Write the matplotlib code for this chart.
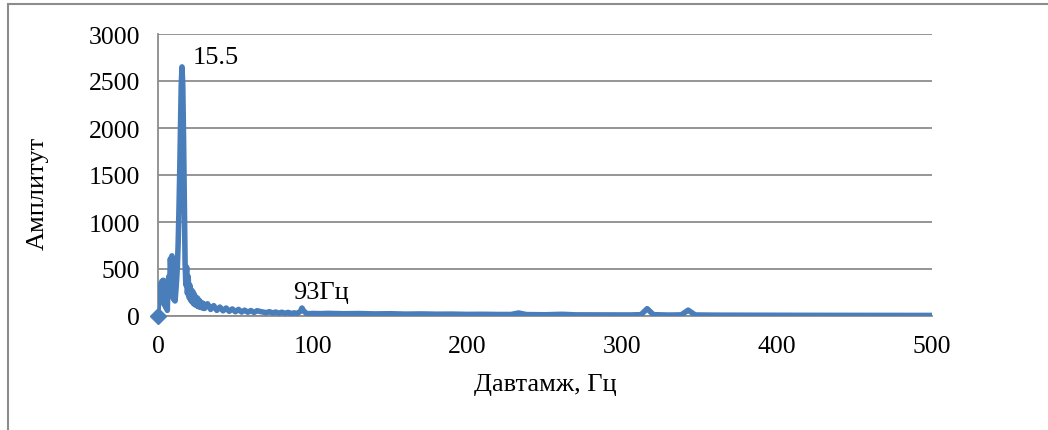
import matplotlib
matplotlib.use("Agg")
import matplotlib.pyplot as plt
from matplotlib.patches import Rectangle

plt.rcParams['font.family'] = ['Liberation Serif', 'DejaVu Serif']

# Spectrum: low-frequency band (0.5 Hz bins)
freq_low = [0.0, 0.5, 1.0, 1.5, 2.0, 2.5, 3.0, 3.5, 4.0, 4.5, 5.0, 5.5, 6.0, 6.5,
            7.0, 7.5, 8.0, 8.5, 9.0, 9.5, 10.0, 10.5, 11.0, 11.5, 12.0, 12.5,
            13.0, 13.5, 14.0, 14.5, 15.0, 15.5, 16.0, 16.5, 17.0, 17.5, 18.0,
            18.5, 19.0, 19.5, 20.0, 20.5, 21.0, 21.5, 22.0, 22.5, 23.0, 23.5,
            24.0, 24.5, 25.0, 25.5, 26.0, 26.5, 27.0, 27.5, 28.0, 28.5, 29.0,
            29.5, 30.0]
amp_low = [0, 260, 150, 340, 230, 370, 200, 380, 120, 330, 90, 280, 60, 350,
           420, 300, 610, 450, 640, 320, 180, 280, 160, 260, 380, 520,
           760, 1100, 1500, 2000, 2450, 2650, 2450, 1900, 1200, 560, 330,
           520, 240, 420, 200, 330, 170, 280, 150, 260, 130, 230,
           120, 200, 110, 190, 100, 170, 95, 150, 90, 140, 85,
           130, 80]

# Mid band (2 Hz bins, plus the 93 Hz component)
freq_mid = [32, 34, 36, 38, 40, 42, 44, 46, 48, 50, 52, 54, 56, 58, 60, 62,
            64, 66, 68, 70, 72, 74, 76, 78, 80, 82, 84, 86, 88, 90, 92, 93,
            94, 96, 98, 100]
amp_mid = [130, 70, 110, 60, 95, 55, 85, 50, 75, 45, 70, 42, 62, 40, 58, 38,
           56, 48, 42, 35, 46, 32, 42, 30, 40, 28, 38, 27, 33, 28, 50, 85,
           55, 26, 25, 27]

# High band
freq_high = [105, 110, 120, 130, 140, 150, 160, 170, 180, 190, 200, 210, 220,
             228, 233, 238, 250, 261, 270, 290, 305, 312, 316, 320, 330, 338,
             342.5, 347, 360, 380, 400, 420, 440, 460, 480, 500]
amp_high = [25, 28, 24, 26, 22, 24, 20, 22, 19, 20, 17, 18, 16,
            16, 32, 15, 13, 18, 12, 12, 11, 14, 78, 14, 10, 12,
            62, 11, 9, 8, 8, 7, 7, 6, 6, 6]

freq = freq_low + freq_mid + freq_high
amp = amp_low + amp_mid + amp_high

y_ticks = [0, 500, 1000, 1500, 2000, 2500, 3000]
x_ticks = [0, 100, 200, 300, 400, 500]

peak_freq = 15.5
peak2_label = "93Гц"

line_color = "#4A7EBB"
grid_color = "#8C8C8C"

fig = plt.figure(figsize=(10.48, 4.31), dpi=100)
ax = fig.add_axes([158 / 1048, 1 - 317 / 431, (932 - 158) / 1048, (317 - 35) / 431])

ax.plot(freq, amp, color=line_color, lw=4.0, solid_joinstyle='round',
        solid_capstyle='round', zorder=3)
ax.plot(freq[:1], amp[:1], marker='D', color=line_color, markersize=8.5,
        zorder=4, clip_on=False)

ax.set_xlim(0, 500)
ax.set_ylim(0, 3000)
ax.set_xticks(x_ticks)
ax.set_yticks(y_ticks)
ax.tick_params(length=0, labelsize=18.5)
ax.tick_params(axis='x', pad=14)
ax.tick_params(axis='y', pad=13)
ax.yaxis.grid(True, color=grid_color, lw=1.3)
ax.set_axisbelow(True)
for side in ('top', 'right'):
    ax.spines[side].set_visible(False)
for side in ('left', 'bottom'):
    ax.spines[side].set_color(grid_color)
    ax.spines[side].set_linewidth(1.3)

ax.set_xlabel("Давтамж, Гц", fontsize=19)
ax.set_ylabel("Амплитут", fontsize=19)
ax.xaxis.set_label_coords(0.5, -0.24)
ax.yaxis.set_label_coords(-0.156, 0.44)
ax.xaxis.label.set_va('center')
ax.yaxis.label.set_va('center')

ax.text(22.5, 2760, f"{peak_freq}", fontsize=19, ha='left', va='center')
ax.text(87, 255, peak2_label, fontsize=19, ha='left', va='center')

# Outer chart frame
fig.patches.append(Rectangle((8 / 1048, -0.1), 1.2, 1 - 5 / 431 + 0.1,
                             transform=fig.transFigure, fill=False,
                             edgecolor="#8C8C8C", lw=1.5))

fig.savefig("out.png", dpi=100)
